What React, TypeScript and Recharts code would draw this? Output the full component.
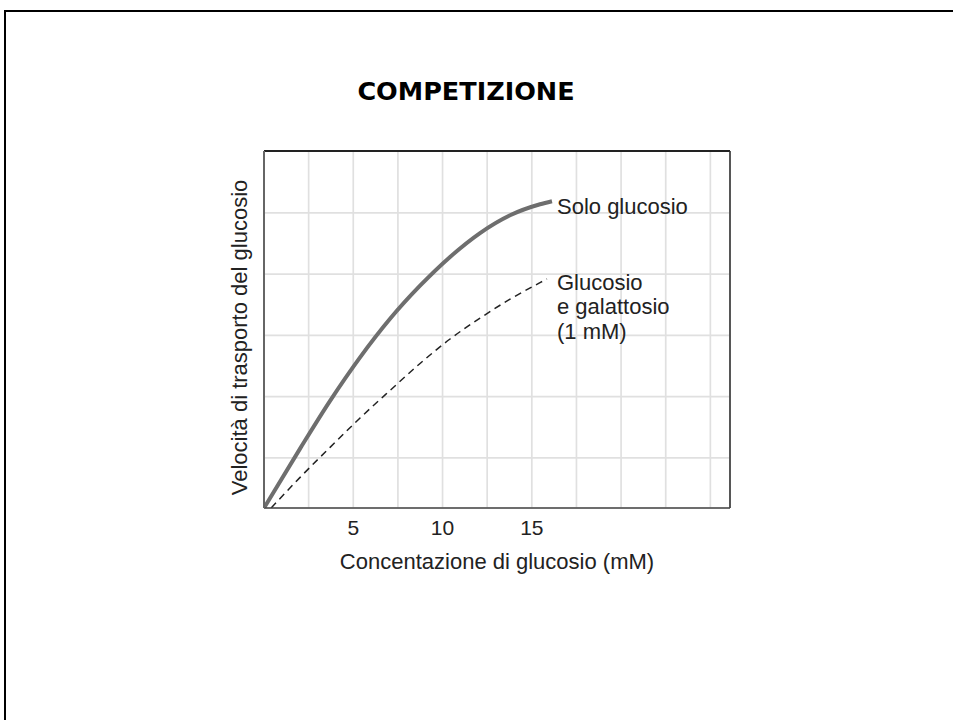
import React from 'react';
import { LineChart, Line, XAxis, YAxis, CartesianGrid, ReferenceLine, Label } from 'recharts';

// Concentration of glucose (mM) and transport rate (arbitrary units)
const soloX = [0, 2.02, 3.7, 5.38, 7.06, 8.74, 10.42, 12.1, 13.78, 15.46, 16.13];
const soloY = [0, 0.97, 1.75, 2.46, 3.09, 3.63, 4.1, 4.49, 4.78, 4.96, 5.01];

const galX = [0.4, 2.02, 3.7, 5.38, 7.06, 8.74, 10.42, 12.1, 13.78, 15.46, 15.85];
const galY = [0, 0.5, 0.99, 1.47, 1.92, 2.36, 2.76, 3.1, 3.41, 3.68, 3.74];

const xGridTicks = [2.5, 5, 7.5, 10, 12.5, 15, 17.5, 20, 22.5, 25];
const xLabeledTicks = [5, 10, 15];
const yGridTicks = [0.82, 1.82, 2.82, 3.82, 4.82];
const xMax = 26.1;
const yMax = 5.83;

const title = 'COMPETIZIONE';
const xTitle = 'Concentazione di glucosio (mM)';
const yTitle = 'Velocità di trasporto del glucosio';
const soloLabel = ['Solo glucosio'];
const galLabel = ['Glucosio', 'e galattosio', '(1 mM)'];

const soloData = soloX.map((x, i) => ({ x, y: soloY[i] }));
const galData = galX.map((x, i) => ({ x, y: galY[i] }));

const FONT = "'Liberation Sans', Arial, Helvetica, sans-serif";

const makeLabel = (lines: string[], total: number, dx: number, dy: number) => (props: any) => {
  const { x, y, index } = props;
  if (index !== total - 1) return null;
  return (
    <text x={x + dx} y={y + dy} fontFamily={FONT} fontSize={22} fill="#222">
      {lines.map((l, i) => (
        <tspan key={i} x={x + dx} dy={i === 0 ? 0 : 24.5}>{l}</tspan>
      ))}
    </text>
  );
};

const renderYTitle = (props: any) => {
  const vb = props.viewBox || {};
  const cx = vb.x + vb.width - 17;
  const cy = vb.y + vb.height / 2 + 8;
  return (
    <text x={cx} y={cy} textAnchor="middle" fontFamily={FONT} fontSize={22} fill="#222" transform={`rotate(-90, ${cx}, ${cy})`}>
      {yTitle}
    </text>
  );
};

const renderXTitle = (props: any) => {
  const vb = props.viewBox || {};
  return (
    <text x={vb.x + vb.width / 2} y={vb.y + 61} textAnchor="middle" fontFamily={FONT} fontSize={22} fill="#222">
      {xTitle}
    </text>
  );
};

export default function App() {
  return (
    <div style={{ position: 'fixed', left: 0, top: 0, width: 953, height: 720, background: '#fff', overflow: 'hidden' }}>
      <svg width={953} height={720} style={{ position: 'absolute', left: 0, top: 0 }}>
        <line x1={4} y1={11} x2={953} y2={11} stroke="#000" strokeWidth={2} />
        <line x1={5} y1={10} x2={5} y2={720} stroke="#000" strokeWidth={2} />
        <text x={466} y={100} textAnchor="middle" fontFamily="'DejaVu Sans', sans-serif" fontWeight="bold" fontSize={25.5} fill="#000">
          {title}
        </text>
      </svg>
      <div style={{ position: 'absolute', left: 0, top: 0 }}>
        <LineChart width={953} height={720} margin={{ top: 151, right: 223, bottom: 152, left: 204 }}>
          <CartesianGrid stroke="#e0e0e0" strokeWidth={1.7} />
          <XAxis
            type="number"
            dataKey="x"
            domain={[0, xMax]}
            ticks={xGridTicks}
            interval={0}
            allowDataOverflow
            height={60}
            tickLine={false}
            tickMargin={6}
            tickFormatter={(v: number) => (xLabeledTicks.includes(v) ? String(v) : '')}
            tick={{ fontFamily: FONT, fontSize: 21, fill: '#222' }}
            axisLine={{ stroke: '#444', strokeWidth: 1.6 }}
          >
            <Label content={renderXTitle} />
          </XAxis>
          <YAxis
            type="number"
            dataKey="y"
            domain={[0, yMax]}
            ticks={yGridTicks}
            interval={0}
            allowDataOverflow
            width={60}
            tickLine={false}
            tickFormatter={() => ''}
            tick={{ fontSize: 1, fill: 'none' }}
            axisLine={{ stroke: '#666', strokeWidth: 2 }}
          >
            <Label content={renderYTitle} />
          </YAxis>
          <ReferenceLine y={yMax} stroke="#222" strokeWidth={1.8} />
          <ReferenceLine x={xMax} stroke="#333" strokeWidth={1.6} />
          <Line
            data={galData}
            dataKey="y"
            type="monotone"
            stroke="#222"
            strokeWidth={1.5}
            strokeDasharray="7 5"
            dot={false}
            isAnimationActive={false}
            label={makeLabel(galLabel, galData.length, 10, 10.7)}
          />
          <Line
            data={soloData}
            dataKey="y"
            type="monotone"
            stroke="#6e6e6e"
            strokeWidth={4}
            dot={false}
            isAnimationActive={false}
            label={makeLabel(soloLabel, soloData.length, 5, 12.5)}
          />
        </LineChart>
      </div>
    </div>
  );
}
